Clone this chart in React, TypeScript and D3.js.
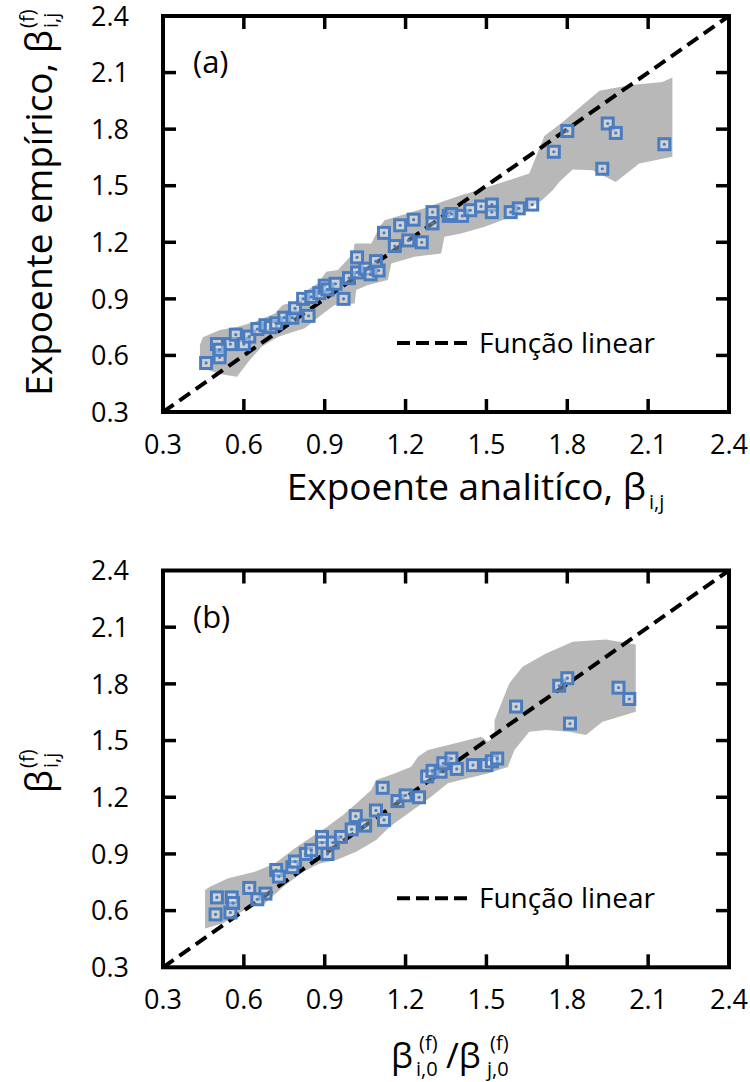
import React from "react";
import * as d3 from "d3";

// Axis ticks shared by every axis of both panels
const TICKS = [0.3, 0.6, 0.9, 1.2, 1.5, 1.8, 2.1, 2.4];

// Panel (a): analytic exponent vs empirical exponent
const aX = [0.46, 0.51, 0.50, 0.55, 0.57, 0.51, 0.60, 0.62, 0.65, 0.68, 0.70, 0.72, 0.75, 0.78, 0.79, 0.84, 0.82, 0.85, 0.88, 0.90, 0.91, 0.94, 0.97, 0.99, 1.02, 1.05, 1.07, 1.10, 1.02, 1.09, 1.12, 1.16, 1.18, 1.21, 1.23, 1.26, 1.30, 1.30, 1.36, 1.37, 1.41, 1.44, 1.48, 1.52, 1.52, 1.59, 1.62, 1.67, 1.75, 1.80, 1.93, 1.95, 1.98, 2.16];
const aY = [0.56, 0.59, 0.66, 0.66, 0.71, 0.63, 0.66, 0.70, 0.74, 0.76, 0.75, 0.77, 0.80, 0.80, 0.85, 0.81, 0.90, 0.91, 0.93, 0.97, 0.95, 0.98, 0.90, 1.01, 1.04, 1.06, 1.03, 1.05, 1.12, 1.10, 1.25, 1.18, 1.29, 1.21, 1.32, 1.20, 1.30, 1.36, 1.34, 1.35, 1.34, 1.37, 1.39, 1.40, 1.36, 1.36, 1.38, 1.40, 1.68, 1.79, 1.59, 1.83, 1.78, 1.72];
const aBandUpper: [number, number][] = [
  [0.437, 0.655], [0.448, 0.697], [0.511, 0.735], [0.578, 0.752], [0.641, 0.779], [0.715, 0.823],
  [0.744, 0.867], [0.789, 0.885], [0.826, 0.938], [0.874, 0.982], [0.906, 1.044], [0.949, 1.053],
  [1.005, 1.141], [1.011, 1.194], [1.073, 1.194], [1.104, 1.282], [1.122, 1.317], [1.184, 1.344],
  [1.270, 1.380], [1.332, 1.414], [1.406, 1.450], [1.468, 1.476], [1.659, 1.565], [1.715, 1.763],
  [1.783, 1.838], [1.919, 2.003], [2.030, 2.033], [2.153, 2.050], [2.190, 2.074],
];
const aBandLower: [number, number][] = [
  [0.437, 0.549], [0.467, 0.523], [0.511, 0.501], [0.574, 0.487], [0.622, 0.576], [0.666, 0.646],
  [0.727, 0.699], [0.826, 0.744], [0.894, 0.823], [0.937, 0.867], [1.011, 0.876], [1.017, 0.947],
  [1.060, 0.973], [1.134, 1.000], [1.147, 1.088], [1.233, 1.123], [1.332, 1.141], [1.344, 1.229],
  [1.406, 1.247], [1.493, 1.282], [1.579, 1.327], [1.659, 1.380], [1.707, 1.424], [1.746, 1.476],
  [1.770, 1.520], [1.820, 1.586], [1.894, 1.582], [1.980, 1.520], [2.067, 1.618], [2.190, 1.653],
];

// Panel (b): ratio of fitted exponents vs empirical exponent
const bX = [0.495, 0.50, 0.555, 0.55, 0.56, 0.62, 0.68, 0.65, 0.72, 0.73, 0.78, 0.79, 0.83, 0.85, 0.89, 0.89, 0.91, 0.93, 0.96, 1.00, 1.015, 1.05, 1.09, 1.12, 1.115, 1.17, 1.20, 1.25, 1.28, 1.30, 1.33, 1.34, 1.37, 1.39, 1.45, 1.50, 1.52, 1.54, 1.61, 1.77, 1.80, 1.81, 1.99, 2.03];
const bY = [0.58, 0.67, 0.67, 0.59, 0.64, 0.72, 0.69, 0.66, 0.815, 0.78, 0.83, 0.86, 0.90, 0.92, 0.99, 0.96, 0.90, 0.96, 0.99, 1.03, 1.10, 1.05, 1.13, 1.08, 1.25, 1.18, 1.21, 1.20, 1.31, 1.34, 1.335, 1.38, 1.405, 1.35, 1.37, 1.37, 1.39, 1.405, 1.68, 1.79, 1.83, 1.59, 1.78, 1.72];
const bBandUpper: [number, number][] = [
  [0.456, 0.709], [0.474, 0.726], [0.542, 0.771], [0.641, 0.806], [0.715, 0.850], [0.789, 0.930],
  [0.844, 0.983], [0.900, 1.035], [0.968, 1.106], [1.011, 1.159], [1.073, 1.238], [1.091, 1.291],
  [1.159, 1.326], [1.221, 1.361], [1.246, 1.414], [1.283, 1.450], [1.381, 1.485], [1.480, 1.520],
  [1.505, 1.494], [1.530, 1.520], [1.530, 1.608], [1.585, 1.803], [1.634, 1.890], [1.721, 1.961],
  [1.820, 2.023], [1.943, 2.035], [2.054, 2.009],
];
const bBandLower: [number, number][] = [
  [0.456, 0.506], [0.523, 0.533], [0.622, 0.621], [0.671, 0.630], [0.746, 0.726], [0.820, 0.806],
  [0.881, 0.850], [0.943, 0.868], [1.017, 0.912], [1.091, 0.974], [1.141, 1.044], [1.227, 1.132],
  [1.289, 1.196], [1.357, 1.274], [1.431, 1.300], [1.505, 1.326], [1.579, 1.360], [1.604, 1.450],
  [1.659, 1.547], [1.721, 1.556], [1.807, 1.547], [1.869, 1.529], [1.931, 1.599], [2.054, 1.652],
];

const LEGEND_LABEL = "Função linear";
const FONT = "'Open Sans', 'Noto Sans', sans-serif";
const BLUE = "#4a7cc0";
const BAND = "#b8b8b8";

const LEFT = 163;
const RIGHT = 729;

type PanelProps = {
  top: number;
  bottom: number;
  xs: number[];
  ys: number[];
  upper: [number, number][];
  lower: [number, number][];
  tag: string;
};

function Panel({ top, bottom, xs, ys, upper, lower, tag }: PanelProps) {
  const x = d3.scaleLinear().domain([0.3, 2.4]).range([LEFT, RIGHT]);
  const y = d3.scaleLinear().domain([0.3, 2.4]).range([bottom, top]);
  const outline = [...upper, ...lower.slice().reverse()];
  const bandPath = d3.line<[number, number]>().x((d) => x(d[0])).y((d) => y(d[1]))(outline) + "Z";
  const inner = TICKS.slice(1, -1);
  const tickLen = 13;
  const legendY = bottom - (bottom - top) * 0.174;
  return (
    <g>
      <path d={bandPath} fill={BAND} />
      <line x1={x(0.3)} y1={y(0.3)} x2={x(2.4)} y2={y(2.4)} stroke="#000" strokeWidth={4} strokeDasharray="13 7" />
      {xs.map((v, i) => (
        <g key={i} transform={`translate(${x(v)},${y(ys[i])})`}>
          <rect x={-5.5} y={-5.5} width={11} height={11} fill="rgba(255,255,255,0.35)" stroke={BLUE} strokeWidth={3} />
          <circle r={1.6} fill={BLUE} />
        </g>
      ))}
      {/* ticks on all four sides, pointing inward */}
      {inner.map((t) => (
        <g key={t} stroke="#000" strokeWidth={3.5}>
          <line x1={x(t)} x2={x(t)} y1={bottom} y2={bottom - tickLen} />
          <line x1={x(t)} x2={x(t)} y1={top} y2={top + tickLen} />
          <line y1={y(t)} y2={y(t)} x1={LEFT} x2={LEFT + tickLen} />
          <line y1={y(t)} y2={y(t)} x1={RIGHT} x2={RIGHT - tickLen} />
        </g>
      ))}
      <rect x={LEFT} y={top} width={RIGHT - LEFT} height={bottom - top} fill="none" stroke="#000" strokeWidth={4} />
      {TICKS.map((t) => (
        <text key={"x" + t} x={x(t)} y={bottom + 42} textAnchor="middle" fontSize={27}>
          {t.toFixed(1)}
        </text>
      ))}
      {TICKS.map((t) => (
        <text key={"y" + t} x={129} y={y(t)} dy="0.36em" textAnchor="end" fontSize={27}>
          {t.toFixed(1)}
        </text>
      ))}
      <text x={193} y={top + 57} fontSize={31}>{tag}</text>
      <line x1={397} x2={467} y1={legendY} y2={legendY} stroke="#000" strokeWidth={4} strokeDasharray="13 6" />
      <text x={479} y={legendY} dy="0.36em" fontSize={28}>{LEGEND_LABEL}</text>
    </g>
  );
}

export default function App() {
  return (
    <svg
      width={750}
      height={1082}
      style={{ position: "absolute", left: 0, top: 0, display: "block" }}
      fontFamily={FONT}
    >
      <rect width={750} height={1082} fill="#fff" />
      <Panel top={16} bottom={412} xs={aX} ys={aY} upper={aBandUpper} lower={aBandLower} tag="(a)" />
      <Panel top={570.5} bottom={967.3} xs={bX} ys={bY} upper={bBandUpper} lower={bBandLower} tag="(b)" />

      {/* panel (a) axis titles */}
      <g fontSize={37}>
        <text x={646} y={500} textAnchor="end">Expoente analitíco, β</text>
        <text x={649} y={509} fontSize={20}>i,j</text>
      </g>
      <g transform="translate(52,207) rotate(-90)" fontSize={37}>
        <text x={177} y={0} textAnchor="end">Expoente empírico, β</text>
        <text x={179} y={-18} fontSize={20}>(f)</text>
        <text x={179} y={6} fontSize={20}>i,j</text>
      </g>

      {/* panel (b) axis titles */}
      <g transform="translate(52,768) rotate(-90)" fontSize={37}>
        <text x={-2} y={0} textAnchor="end">β</text>
        <text x={0} y={-18} fontSize={20}>(f)</text>
        <text x={0} y={6} fontSize={20}>i,j</text>
      </g>
      <g fontSize={35}>
        <text x={391} y={1068}>β</text>
        <text x={419} y={1050} fontSize={20}>(f)</text>
        <text x={416} y={1076} fontSize={20}>i,0</text>
        <text x={446} y={1068}>/β</text>
        <text x={490} y={1050} fontSize={20}>(f)</text>
        <text x={487} y={1076} fontSize={20}>j,0</text>
      </g>
    </svg>
  );
}
